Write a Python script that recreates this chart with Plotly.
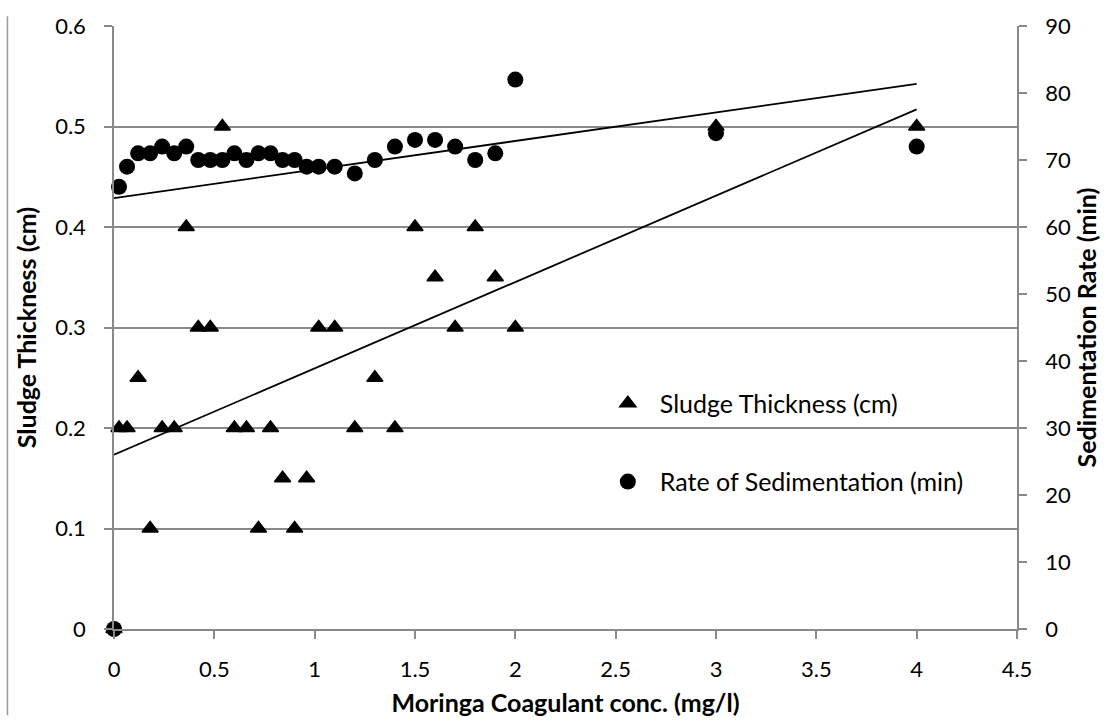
import numpy as np
import plotly.graph_objects as go

# Moringa coagulant dose (mg/l)
conc = [0, 0.025, 0.065, 0.12, 0.18, 0.24, 0.3, 0.36, 0.42, 0.48,
        0.54, 0.6, 0.66, 0.72, 0.78, 0.84, 0.9, 0.96, 1.02, 1.1,
        1.2, 1.3, 1.4, 1.5, 1.6, 1.7, 1.8, 1.9, 2.0, 3, 4]

# Sludge thickness (cm) - left axis
sludge = [0, 0.2, 0.2, 0.25, 0.1, 0.2, 0.2, 0.4, 0.3, 0.3,
          0.5, 0.2, 0.2, 0.1, 0.2, 0.15, 0.1, 0.15, 0.3, 0.3,
          0.2, 0.25, 0.2, 0.4, 0.35, 0.3, 0.4, 0.35, 0.3, 0.5, 0.5]

# Rate of sedimentation (min) - right axis
rate = [0, 66, 69, 71, 71, 72, 71, 72, 70, 70,
        70, 71, 70, 71, 71, 70, 70, 69, 69, 69,
        68, 70, 72, 73, 73, 72, 70, 71, 82, 74, 72]

GRAY = "#898989"
FONT = "Lato, 'Open Sans', sans-serif"
TITLE_FONT = dict(family=FONT, size=25, color="black", weight="bold")

# Linear trendlines (least squares) over the dose range
trend_x = np.array([0.0, 4.0])
s_slope, s_int = np.polyfit(conc, sludge, 1)
r_slope, r_int = np.polyfit(conc, rate, 1)

fig = go.Figure()

fig.add_trace(go.Scatter(
    x=trend_x, y=s_int + s_slope * trend_x, mode="lines",
    line=dict(color="black", width=1.8), showlegend=False, hoverinfo="skip",
    yaxis="y"))
fig.add_trace(go.Scatter(
    x=trend_x, y=r_int + r_slope * trend_x, mode="lines",
    line=dict(color="black", width=1.8), showlegend=False, hoverinfo="skip",
    yaxis="y2"))

fig.add_trace(go.Scatter(
    x=conc, y=sludge, mode="markers", name="Sludge Thickness (cm)",
    marker=dict(symbol="triangle-up", size=14, color="black",
                line=dict(color="black", width=1.5)),
    cliponaxis=False, yaxis="y", legend="legend"))
fig.add_trace(go.Scatter(
    x=conc, y=rate, mode="markers", name="Rate of Sedimentation (min)",
    marker=dict(symbol="circle", size=16, color="black"),
    cliponaxis=False, yaxis="y2", legend="legend2"))

axis_common = dict(
    showline=True, linecolor=GRAY, linewidth=1.5,
    ticks="outside", ticklen=8, tickwidth=1.5, tickcolor=GRAY,
    zeroline=False, tickfont=dict(family=FONT, size=22, color="black"),
)

fig.update_layout(
    width=1109, height=725, autosize=False,
    margin=dict(l=114, r=88, t=22, b=88, pad=0),
    plot_bgcolor="white", paper_bgcolor="white",
    font=dict(family=FONT, size=22, color="black"),
    xaxis=dict(
        range=[0, 4.5], tick0=0, dtick=0.5, showgrid=False,
        ticklabelstandoff=12,
        title=dict(text="Moringa Coagulant conc. (mg/l)",
                   font=TITLE_FONT, standoff=13),
        **axis_common),
    yaxis=dict(
        range=[0, 0.6], tick0=0, dtick=0.1, showgrid=True,
        gridcolor=GRAY, gridwidth=1.5, ticklabelstandoff=14,
        title=dict(text="Sludge Thickness (cm)",
                   font=TITLE_FONT, standoff=11),
        **axis_common),
    yaxis2=dict(
        range=[0, 90], tick0=0, dtick=10, overlaying="y", side="right",
        showgrid=False, ticklabelstandoff=14,
        title=dict(text="Sedimentation Rate (min)",
                   font=TITLE_FONT, standoff=9),
        **axis_common),
    legend=dict(
        x=0.5336, y=0.374, xanchor="left", yanchor="middle",
        bgcolor="rgba(0,0,0,0)", itemwidth=54,
        font=dict(family=FONT, size=25, color="black")),
    legend2=dict(
        x=0.5336, y=0.244, xanchor="left", yanchor="middle",
        bgcolor="rgba(0,0,0,0)", itemwidth=54,
        font=dict(family=FONT, size=25, color="black")),
    shapes=[dict(
        type="line", xref="paper", yref="paper",
        x0=(7 - 114) / 907, x1=(7 - 114) / 907,
        y0=(637 - 725) / 615, y1=(637 - 12) / 615,
        line=dict(color="#9a9a9a", width=1.5))],
)

fig.write_html("out.html")
